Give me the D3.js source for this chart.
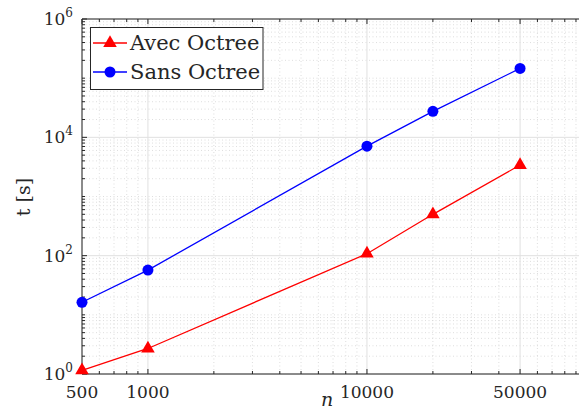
<!DOCTYPE html>
<html><head><meta charset="utf-8">
<script src="https://cdn.jsdelivr.net/npm/d3@7"></script>
<style>
html,body{margin:0;padding:0;background:#fff;overflow:hidden;}
svg{display:block;}
text{font-family:"DejaVu Serif",serif;fill:#262626;}
</style></head>
<body>
<script>
const nValues = [500, 1000, 10000, 20000, 50000];
const avecOctree = [1.15, 2.7, 108, 500, 3400];
const sansOctree = [16.3, 57, 7100, 27500, 146000];
const seriesNames = ["Avec Octree", "Sans Octree"];
const xTickValues = [500, 1000, 10000, 50000];
const yTickExponents = [0, 2, 4, 6];
const xDomain = [500, 100000];
const yDomain = [1, 1e6];

(function () {
const W = 579, H = 414;
const svg = d3.select("body").append("svg").attr("width", W).attr("height", H);
const pL = 82, pR = 586, pT = 19, pB = 374;

const x = d3.scaleLog().domain(xDomain).range([pL, pR]);
const y = d3.scaleLog().domain(yDomain).range([pB, pT]);

const gridCol = "#e0e0e0", minorCol = "#d6d6d6", axisCol = "#262626";

const xMinor = [];
[100, 1000, 10000].forEach(d => { for (let k = 1; k <= 9; k++) { const v = d * k; if (v > 500 && v < 100000 && !xTickValues.includes(v)) xMinor.push(v); } });
const yMajor = yTickExponents.map(p => Math.pow(10, p));
const yMinor = [];
for (let e = 0; e < 6; e++) { for (let k = 1; k <= 9; k++) { const v = Math.pow(10, e) * k; if (!yMajor.includes(v) && v > 1 && v < 1e6) yMinor.push(v); } }

const grid = svg.append("g");
grid.selectAll(".xm").data(xMinor).join("line")
  .attr("x1", d => x(d)).attr("x2", d => x(d)).attr("y1", pT).attr("y2", pB)
  .attr("stroke", minorCol).attr("stroke-width", 0.8).attr("stroke-dasharray", "1,2.5");
grid.selectAll(".ym").data(yMinor).join("line")
  .attr("y1", d => y(d)).attr("y2", d => y(d)).attr("x1", pL).attr("x2", pR)
  .attr("stroke", minorCol).attr("stroke-width", 0.8).attr("stroke-dasharray", "1,2.5");
grid.selectAll(".xM").data(xTickValues).join("line")
  .attr("x1", d => x(d)).attr("x2", d => x(d)).attr("y1", pT).attr("y2", pB)
  .attr("stroke", gridCol).attr("stroke-width", 1);
grid.selectAll(".yM").data(yMajor).join("line")
  .attr("y1", d => y(d)).attr("y2", d => y(d)).attr("x1", pL).attr("x2", pR)
  .attr("stroke", gridCol).attr("stroke-width", 1);

const ax = svg.append("g").attr("stroke", axisCol).attr("stroke-width", 1);
ax.append("line").attr("x1", pL).attr("x2", pR).attr("y1", pB).attr("y2", pB);
ax.append("line").attr("x1", pL).attr("x2", pR).attr("y1", pT).attr("y2", pT);
ax.append("line").attr("x1", pL).attr("x2", pL).attr("y1", pT).attr("y2", pB);
xMinor.forEach(v => {
  ax.append("line").attr("x1", x(v)).attr("x2", x(v)).attr("y1", pB).attr("y2", pB - 3);
  ax.append("line").attr("x1", x(v)).attr("x2", x(v)).attr("y1", pT).attr("y2", pT + 3);
});
xTickValues.forEach(v => {
  ax.append("line").attr("x1", x(v)).attr("x2", x(v)).attr("y1", pB).attr("y2", pB - 5);
  ax.append("line").attr("x1", x(v)).attr("x2", x(v)).attr("y1", pT).attr("y2", pT + 5);
});
yMinor.forEach(v => ax.append("line").attr("x1", pL).attr("x2", pL + 3).attr("y1", y(v)).attr("y2", y(v)));
yMajor.forEach(v => ax.append("line").attr("x1", pL).attr("x2", pL + 5).attr("y1", y(v)).attr("y2", y(v)));

svg.selectAll(".xl").data(xTickValues).join("text")
  .attr("x", d => x(d)).attr("y", pB + 24).attr("text-anchor", "middle")
  .attr("font-size", 17).text(d => d);
const yl = svg.selectAll(".yl").data(yTickExponents).join("text")
  .attr("x", pL - 9).attr("y", d => y(Math.pow(10, d)) + 6).attr("text-anchor", "end")
  .attr("font-size", 17);
yl.append("tspan").text("10");
yl.append("tspan").attr("font-size", 12).attr("dy", -8).text(d => d);

svg.append("text").attr("x", 327).attr("y", 406).attr("text-anchor", "middle")
  .attr("font-size", 19).attr("font-style", "italic").text("n");
svg.append("text").attr("transform", "translate(30,197) rotate(-90)").attr("text-anchor", "middle")
  .attr("font-size", 19).text("t [s]");

const line = d3.line().x(d => x(d[0])).y(d => y(d[1]));
const red = "#ff0000", blue = "#0000ff";
const avecData = nValues.map((n, i) => [n, avecOctree[i]]);
const sansData = nValues.map((n, i) => [n, sansOctree[i]]);
svg.append("path").datum(sansData).attr("d", line).attr("fill", "none").attr("stroke", blue).attr("stroke-width", 1.3);
svg.append("path").datum(avecData).attr("d", line).attr("fill", "none").attr("stroke", red).attr("stroke-width", 1.3);
const tri = d3.symbol().type(d3.symbolTriangle).size(80);
svg.selectAll(".tri").data(avecData).join("path")
  .attr("d", tri).attr("transform", d => `translate(${x(d[0])},${y(d[1])})`).attr("fill", red);
svg.selectAll(".circ").data(sansData).join("circle")
  .attr("cx", d => x(d[0])).attr("cy", d => y(d[1])).attr("r", 5.5).attr("fill", blue);

const lg = svg.append("g");
lg.append("rect").attr("x", 90.5).attr("y", 27.5).attr("width", 172.5).attr("height", 62)
  .attr("fill", "#fff").attr("stroke", axisCol).attr("stroke-width", 1);
const rows = [{ name: seriesNames[0], color: red, y: 43 }, { name: seriesNames[1], color: blue, y: 72 }];
rows.forEach((r, i) => {
  lg.append("line").attr("x1", 93).attr("x2", 127).attr("y1", r.y).attr("y2", r.y).attr("stroke", r.color).attr("stroke-width", 1.3);
  if (i === 0) lg.append("path").attr("d", tri).attr("transform", `translate(110,${r.y})`).attr("fill", red);
  else lg.append("circle").attr("cx", 110).attr("cy", r.y).attr("r", 5.5).attr("fill", blue);
  lg.append("text").attr("x", 130).attr("y", r.y + 7).attr("font-size", 21).text(r.name);
});
})();
</script>
</body></html>
